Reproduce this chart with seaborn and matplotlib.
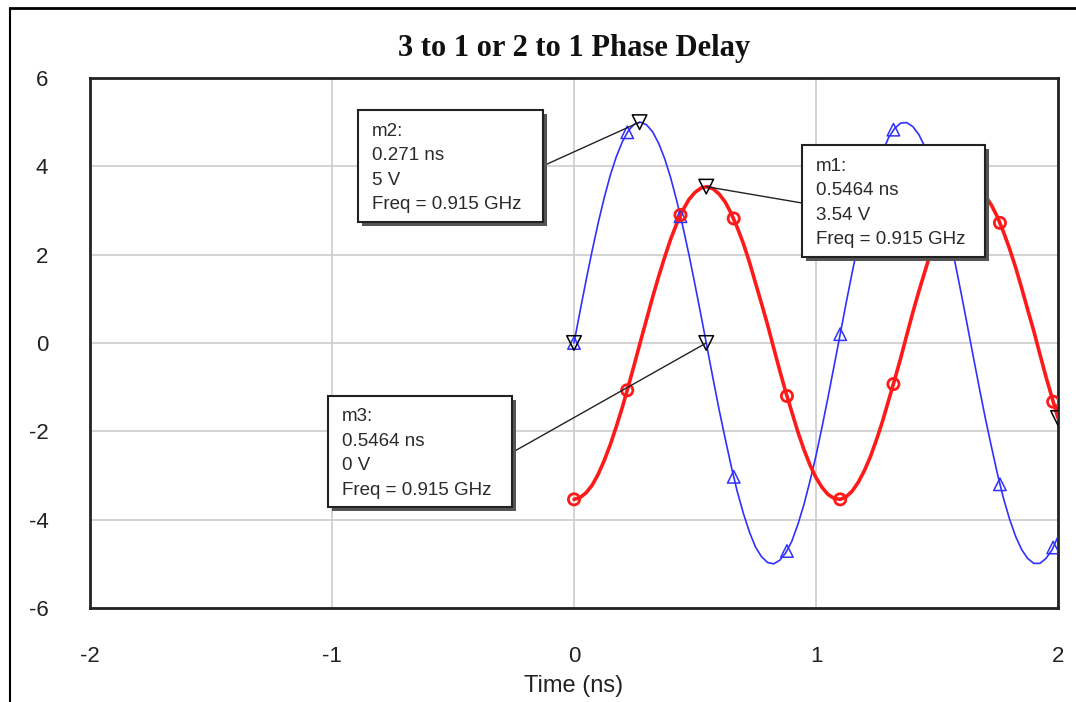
import numpy as np
import pandas as pd
import matplotlib
matplotlib.use("Agg")
import matplotlib.pyplot as plt
import seaborn as sns
from matplotlib.patches import Rectangle
from matplotlib.lines import Line2D

# curve samples (ns, V)
time_ns = [0.000, 0.025, 0.050, 0.075, 0.100, 0.125, 0.150, 0.175, 0.200, 0.225,
           0.250, 0.275, 0.300, 0.325, 0.350, 0.375, 0.400, 0.425, 0.450, 0.475,
           0.500, 0.525, 0.550, 0.575, 0.600, 0.625, 0.650, 0.675, 0.700, 0.725,
           0.750, 0.775, 0.800, 0.825, 0.850, 0.875, 0.900, 0.925, 0.950, 0.975,
           1.000, 1.025, 1.050, 1.075, 1.100, 1.125, 1.150, 1.175, 1.200, 1.225,
           1.250, 1.275, 1.300, 1.325, 1.350, 1.375, 1.400, 1.425, 1.450, 1.475,
           1.500, 1.525, 1.550, 1.575, 1.600, 1.625, 1.650, 1.675, 1.700, 1.725,
           1.750, 1.775, 1.800, 1.825, 1.850, 1.875, 1.900, 1.925, 1.950, 1.975,
           2.000]
blue_v = [0.00, 0.72, 1.42, 2.09, 2.72, 3.29, 3.80, 4.22, 4.56, 4.81,
          4.96, 5.00, 4.94, 4.78, 4.52, 4.17, 3.73, 3.21, 2.63, 2.00,
          1.32, 0.62, -0.10, -0.82, -1.52, -2.17, -2.80, -3.37, -3.86, -4.28,
          -4.62, -4.84, -4.97, -5.00, -4.92, -4.75, -4.49, -4.11, -3.66, -3.13,
          -2.55, -1.90, -1.22, -0.51, 0.20, 0.92, 1.61, 2.27, 2.89, 3.44,
          3.93, 4.33, 4.65, 4.86, 4.98, 4.99, 4.90, 4.72, 4.44, 4.05,
          3.59, 3.06, 2.46, 1.81, 1.12, 0.41, -0.31, -1.02, -1.71, -2.35,
          -2.97, -3.52, -3.99, -4.38, -4.68, -4.88, -4.99, -4.99, -4.88, -4.69,
          -4.38]
red_v = [-3.54, -3.50, -3.39, -3.22, -2.97, -2.66, -2.30, -1.89, -1.45, -0.97,
         -0.47, 0.04, 0.54, 1.04, 1.51, 1.95, 2.36, 2.71, 3.01, 3.25,
         3.41, 3.51, 3.54, 3.49, 3.37, 3.19, 2.93, 2.61, 2.25, 1.83,
         1.36, 0.89, 0.41, -0.11, -0.62, -1.11, -1.56, -2.01, -2.41, -2.76,
         -3.05, -3.27, -3.43, -3.52, -3.54, -3.48, -3.35, -3.15, -2.89, -2.57,
         -2.19, -1.77, -1.30, -0.83, -0.34, 0.18, 0.69, 1.17, 1.62, 2.07,
         2.46, 2.80, 3.08, 3.30, 3.45, 3.53, 3.53, 3.47, 3.33, 3.12,
         2.85, 2.51, 2.13, 1.71, 1.24, 0.75, 0.27, -0.25, -0.76, -1.23,
         -1.70]

# symbol points along each trace
mark_t = [0.00, 0.22, 0.44, 0.66, 0.88, 1.10, 1.32, 1.54, 1.76, 1.98]
mark_blue = [0.00, 4.77, 2.87, -3.03, -4.71, 0.20, 4.83, 2.70, -3.20, -4.63]
mark_red = [-3.54, -1.07, 2.90, 2.82, -1.20, -3.54, -0.93, 2.98, 2.72, -1.33]

# markers m1..m3 plus the two end markers
marker_names = ["m1", "m2", "m3", "", ""]
marker_t = [0.5464, 0.271, 0.5464, 0.0, 2.0]
marker_v = [3.54, 5.0, 0.0, 0.0, -1.70]

box_lines = {
    "m2": ["m2:", "0.271 ns", "5 V", "Freq = 0.915 GHz"],
    "m1": ["m1:", "0.5464 ns", "3.54 V", "Freq = 0.915 GHz"],
    "m3": ["m3:", "0.5464 ns", "0 V", "Freq = 0.915 GHz"],
}
# box extents (t0, t1, v_bottom, v_top) and the edge point the leader leaves from
box_pos = {
    "m2": (-0.893, -0.128, 2.74, 5.275, (-0.12, 4.03)),
    "m1": (0.942, 1.698, 1.95, 4.48, (0.942, 3.17)),
    "m3": (-1.017, -0.256, -3.71, -1.20, (-0.256, -2.48)),
}

curves = pd.DataFrame({"t": time_ns * 2,
                       "v": blue_v + red_v,
                       "trace": ["blue"] * len(time_ns) + ["red"] * len(time_ns)})

sns.set_style("white")
plt.rcParams["font.family"] = ["Liberation Sans", "DejaVu Sans"]
plt.rcParams["axes.unicode_minus"] = False

fig = plt.figure(figsize=(10.76, 7.02), dpi=100)
ax = fig.add_axes([90 / 1076, 1 - 608 / 702, 968 / 1076, 530 / 702])

sns.lineplot(data=curves[curves.trace == "blue"], x="t", y="v", color="#3030ff",
             linewidth=1.2, ax=ax, zorder=3)
sns.lineplot(data=curves[curves.trace == "red"], x="t", y="v", color="#ff1a1a",
             linewidth=2.6, ax=ax, zorder=3)
ax.scatter(mark_t, mark_blue, marker="^", s=80, facecolors="none",
           edgecolors="#3030ff", linewidths=1.1, zorder=4)
ax.scatter(mark_t, mark_red, marker="o", s=65, facecolors="none",
           edgecolors="#ff1a1a", linewidths=2.0, zorder=4)
ax.scatter(marker_t, marker_v, marker="v", s=110, facecolors="none",
           edgecolors="black", linewidths=1.1, zorder=6)

ax.set_xlim(-2, 2)
ax.set_ylim(-6, 6)
ax.set_xticks([-2, -1, 0, 1, 2])
ax.set_yticks([-6, -4, -2, 0, 2, 4, 6])
ax.grid(True, color="#cccccc", linewidth=1.2)
ax.set_axisbelow(True)
for sp in ax.spines.values():
    sp.set_color("#222222")
    sp.set_linewidth(2)
ax.tick_params(axis="x", length=0, pad=27, labelsize=16, labelcolor="#222222")
ax.tick_params(axis="y", length=0, pad=30, labelsize=16, labelcolor="#222222")
ax.set_xlabel("Time (ns)", fontsize=17, labelpad=6, color="#222222")
ax.set_ylabel("")
ax.set_title("3 to 1 or 2 to 1 Phase Delay", fontsize=22, fontweight="bold",
             family="Liberation Serif", pad=16, color="#111111")

# annotation boxes with drop shadow and leader line
px_t = 1 / 242.0
px_v = 1 / 44.17
for name, (t0, t1, vb, vt, edge) in box_pos.items():
    k = marker_names.index(name)
    ax.plot([edge[0], marker_t[k]], [edge[1], marker_v[k]], color="#222222",
            linewidth=1.0, zorder=7)
    ax.add_patch(Rectangle((t0 + 4 * px_t, vb - 4 * px_v), t1 - t0, vt - vb,
                           facecolor="#555555", edgecolor="none", zorder=8))
    ax.add_patch(Rectangle((t0, vb), t1 - t0, vt - vb, facecolor="white",
                           edgecolor="#222222", linewidth=1.5, zorder=9))
    for i, line in enumerate(box_lines[name]):
        ax.text(t0 + 14 * px_t, vt - (21 + 24.5 * i) * px_v, line, fontsize=13.5,
                va="center", ha="left", color="#2a2a2a", zorder=10)

# outer screenshot frame
fig.add_artist(Line2D([10 / 1076, 1], [1 - 8 / 702, 1 - 8 / 702],
                      transform=fig.transFigure, color="black", linewidth=2))
fig.add_artist(Line2D([10 / 1076, 10 / 1076], [0, 1 - 8 / 702],
                      transform=fig.transFigure, color="black", linewidth=1.5))

fig.savefig("out.png", dpi=100)
